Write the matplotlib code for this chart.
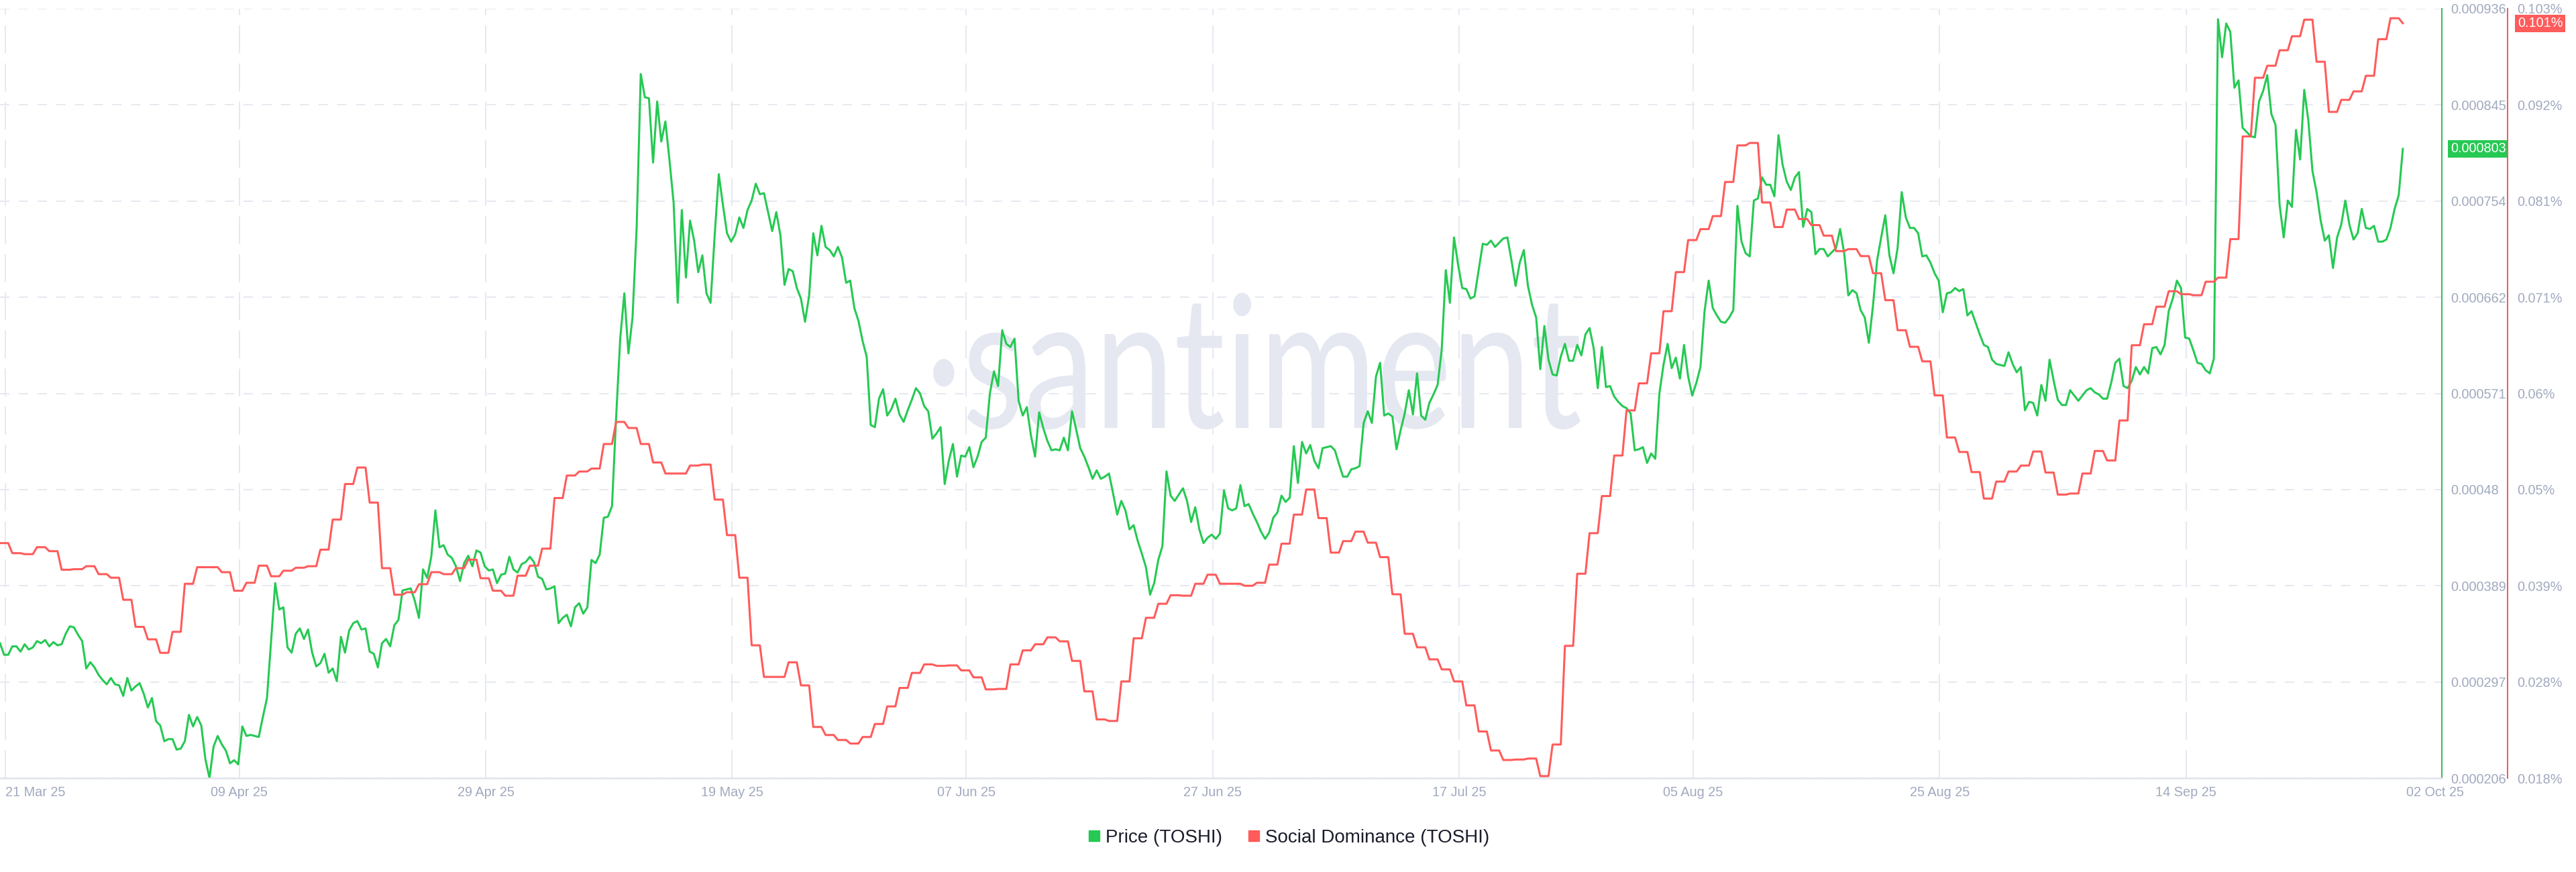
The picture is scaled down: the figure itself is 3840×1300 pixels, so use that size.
import numpy as np
import pandas as pd
import matplotlib
matplotlib.use("Agg")
import matplotlib.pyplot as plt
import matplotlib.dates as mdates
from matplotlib.lines import Line2D
from matplotlib.textpath import TextPath
from matplotlib.patches import PathPatch
from matplotlib.font_manager import FontProperties
from matplotlib.transforms import Affine2D, ScaledTranslation, blended_transform_factory

plt.rcParams["font.family"] = ["Liberation Sans", "DejaVu Sans"]

# TOSHI price in millionths of a dollar, one point every 8 hours from 20 Mar 25 14:00
price_e6 = [
    334, 323, 323, 331, 331, 326, 333, 328, 330, 336,
    334, 337, 331, 335, 332, 333, 343, 350, 349, 342,
    336, 310, 316, 311, 304, 299, 295, 301, 295, 294,
    284, 301, 289, 293, 296, 286, 273, 282, 260, 256,
    241, 243, 243, 233, 234, 241, 266, 255, 264, 256,
    224, 206, 236, 246, 238, 232, 220, 223, 219, 255,
    246, 247, 246, 245, 264, 282, 336, 391, 366, 368,
    330, 325, 343, 348, 338, 347, 325, 312, 315, 324,
    306, 310, 298, 340, 325, 346, 353, 355, 347, 348,
    326, 324, 311, 334, 338, 331, 351, 356, 384, 385,
    386, 374, 358, 404, 396, 416, 460, 425, 427, 418,
    415, 407, 393, 410, 417, 407, 422, 420, 407, 403,
    404, 391, 399, 400, 416, 404, 401, 409, 411, 416,
    411, 397, 395, 385, 386, 388, 353, 358, 361, 350,
    368, 372, 362, 368, 413, 410, 418, 453, 454, 464,
    548, 623, 666, 609, 643, 728, 874, 852, 851, 790,
    848, 810, 829, 792, 752, 657, 745, 681, 735, 716,
    686, 702, 666, 657, 721, 779, 750, 723, 715, 722,
    738, 728, 745, 754, 770, 760, 761, 743, 725, 743,
    721, 674, 689, 687, 671, 661, 639, 664, 723, 702,
    730, 710, 707, 701, 710, 700, 676, 678, 652, 640,
    621, 606, 541, 539, 566, 575, 550, 556, 566, 551,
    544, 555, 565, 576, 571, 559, 554, 528, 533, 539,
    485, 507, 523, 492, 512, 511, 520, 501, 511, 525,
    529, 571, 592, 578, 631, 618, 615, 623, 564, 550,
    558, 531, 511, 553, 538, 526, 517, 518, 517, 529,
    517, 554, 537, 519, 511, 501, 490, 498, 490, 492,
    495, 476, 456, 469, 460, 442, 446, 431, 419, 406,
    380, 391, 413, 426, 497, 474, 469, 475, 481, 469,
    449, 463, 442, 429, 434, 437, 433, 438, 479, 462,
    460, 462, 484, 464, 466, 457, 449, 440, 433, 439,
    453, 458, 474, 468, 472, 521, 486, 525, 514, 522,
    507, 500, 519, 520, 521, 517, 504, 492, 492, 499,
    500, 502, 543, 554, 543, 587, 600, 550, 552, 549,
    518, 536, 552, 574, 551, 590, 550, 546, 562, 570,
    579, 612, 688, 657, 719, 693, 671, 670, 661, 663,
    688, 713, 712, 716, 710, 714, 718, 719, 697, 673,
    695, 707, 673, 655, 643, 594, 635, 603, 589, 588,
    606, 618, 602, 602, 617, 607, 627, 633, 614, 576,
    615, 577, 578, 568, 563, 559, 557, 552, 517, 518,
    520, 505, 514, 509, 571, 598, 618, 595, 605, 585,
    617, 587, 569, 581, 596, 649, 678, 652, 645, 639,
    638, 643, 650, 749, 715, 704, 701, 754, 756, 776,
    769, 769, 758, 816, 788, 772, 764, 776, 781, 729,
    746, 743, 703, 708, 708, 701, 705, 709, 727, 704,
    664, 669, 666, 650, 643, 619, 654, 697, 719, 740,
    702, 685, 709, 762, 738, 728, 728, 723, 701, 702,
    695, 685, 678, 648, 666, 667, 671, 668, 670, 645,
    649, 638, 627, 617, 615, 603, 599, 598, 597, 610,
    599, 591, 596, 555, 563, 562, 550, 579, 564, 603,
    583, 565, 560, 560, 574, 569, 564, 569, 574, 576,
    572, 570, 566, 566, 581, 600, 604, 578, 576, 583,
    596, 589, 596, 590, 614, 615, 608, 617, 649, 661,
    678, 671, 624, 623, 612, 600, 599, 593, 590, 604,
    926, 890, 922, 914, 861, 868, 823, 819, 815, 814,
    848, 858, 873, 836, 826, 750, 719, 754, 748, 821,
    793, 859, 830, 782, 762, 735, 716, 721, 690, 719,
    731, 754, 731, 717, 723, 746, 728, 727, 730, 715,
    715, 717, 728, 746, 759, 803,
]

# social dominance in thousandths of a percent, one value per day
social_e3 = [
    43.96, 42.85, 42.74, 43.51, 43.07, 41.02, 41.08, 41.41, 40.53, 40.14,
    37.70, 34.71, 33.33, 31.84, 34.16, 39.47, 41.30, 41.30, 40.75, 38.70,
    39.58, 41.47, 40.30, 40.91, 41.24, 41.41, 43.24, 46.56, 50.49, 52.31,
    48.44, 41.19, 38.26, 38.53, 39.42, 40.75, 40.53, 41.19, 42.13, 40.08,
    38.70, 38.15, 40.36, 41.47, 43.35, 48.94, 51.43, 51.87, 52.20, 54.91,
    57.35, 56.68, 54.91, 52.87, 51.65, 51.65, 52.53, 52.64, 48.77, 44.84,
    40.14, 32.67, 29.18, 29.18, 30.79, 28.24, 23.65, 22.76, 22.21, 21.82,
    22.54, 23.98, 25.92, 27.96, 29.62, 30.56, 30.40, 30.45, 29.90, 29.13,
    27.80, 27.85, 30.56, 32.11, 32.78, 33.55, 33.11, 30.95, 27.58, 24.48,
    24.31, 28.68, 33.44, 35.71, 37.26, 38.20, 38.15, 39.47, 40.47, 39.47,
    39.47, 39.25, 39.58, 41.58, 43.90, 47.11, 49.88, 46.72, 42.91, 44.18,
    45.23, 44.01, 42.41, 38.31, 33.94, 32.45, 31.12, 30.01, 28.68, 26.03,
    23.15, 21.05, 20.00, 20.05, 20.16, 18.22, 21.71, 32.61, 40.58, 45.06,
    49.16, 53.64, 58.62, 61.61, 64.93, 69.58, 73.90, 77.44, 78.65, 80.09,
    83.86, 87.90, 88.17, 81.59, 78.88, 80.81, 79.76, 79.10, 77.93, 76.22,
    76.44, 75.67, 73.78, 70.80, 67.48, 65.65, 64.04, 60.28, 55.63, 54.03,
    51.81, 48.88, 50.76, 51.87, 52.53, 54.08, 51.76, 49.32, 49.44, 51.65,
    54.14, 53.09, 57.51, 65.82, 68.14, 70.08, 71.79, 71.46, 71.35, 72.84,
    73.29, 77.55, 88.89, 95.37, 96.70, 98.41, 99.96, 101.79, 97.14, 91.60,
    92.93, 93.87, 95.59, 99.63, 101.95, 101.40,
]

start = "2025-03-20 14:00"
end = "2025-10-04 18:00"
tick_dates = ["2025-03-21", "2025-04-09", "2025-04-29", "2025-05-19", "2025-06-07",
              "2025-06-27", "2025-07-17", "2025-08-05", "2025-08-25", "2025-09-14"]
tick_labels = ["21 Mar 25", "09 Apr 25", "29 Apr 25", "19 May 25", "07 Jun 25",
               "27 Jun 25", "17 Jul 25", "05 Aug 25", "25 Aug 25", "14 Sep 25"]
last_label = "02 Oct 25"
price_labels = ["0.000206", "0.000297", "0.000389", "0.00048", "0.000571",
                "0.000662", "0.000754", "0.000845", "0.000936"]
social_labels = ["0.018%", "0.028%", "0.039%", "0.05%", "0.06%",
                 "0.071%", "0.081%", "0.092%", "0.103%"]
legend_labels = ["Price (TOSHI)", "Social Dominance (TOSHI)"]

GREEN = "#26c953"
RED = "#ff5b5b"
GREY = "#a0a9be"
GRID = "#e7e9f1"
FS = 14.3

price = np.array(price_e6) * 1e-6
social = np.repeat(np.array(social_e3) * 1e-3, 3)[:len(price)]
t = pd.date_range(start, periods=len(price), freq="8h")

fig = plt.figure(figsize=(38.4, 13), dpi=100)
ax = fig.add_axes([0, 1 - 1160 / 1300, 3640 / 3840, 1147 / 1300])
ax2 = ax.twinx()
# twinx moves the first axis' ticks back to the left, so put them right again
ax.yaxis.tick_right()
ax.yaxis.set_label_position("right")

ax.plot(t, price, color=GREEN, lw=2.2, zorder=2)
ax2.plot(t, social, color=RED, lw=2.2, zorder=2)

ax.set_xlim(mdates.date2num(pd.Timestamp(start)), mdates.date2num(pd.Timestamp(end)))
ax.set_ylim(float(price_labels[0]), float(price_labels[-1]))
ax2.set_ylim(float(social_labels[0][:-1]), float(social_labels[-1][:-1]))

ax.set_xticks(mdates.date2num(pd.to_datetime(tick_dates)))
xl = ax.set_xticklabels(tick_labels)
xl[0].set_ha("left")
ax.set_yticks(np.linspace(*ax.get_ylim(), len(price_labels)))
ax.set_yticklabels(price_labels)
ax2.set_yticks(np.linspace(*ax2.get_ylim(), len(social_labels)))
ax2.set_yticklabels(social_labels)

ax.tick_params(axis="x", length=0, pad=8.6, labelsize=FS, labelcolor=GREY)
ax.tick_params(axis="y", length=0, pad=9.4, labelsize=FS, labelcolor=GREY,
               left=False, labelleft=False, right=True, labelright=True)
ax2.tick_params(axis="y", length=0, pad=10, labelsize=FS, labelcolor=GREY)

ax.yaxis.grid(True, color=GRID, lw=1.5, linestyle=(0, (6.7, 6.7)))
ax.xaxis.grid(True, color=GRID, lw=1.5, linestyle=(0, (20, 7.3)))
ax.set_axisbelow(True)

for s in ["left", "top"]:
    ax.spines[s].set_visible(False)
ax.spines["right"].set_color("#3dba5f")
ax.spines["right"].set_linewidth(1.5)
ax.spines["bottom"].set_color("#e1e4ec")
ax.spines["bottom"].set_linewidth(1.8)
for s in ["left", "top", "bottom"]:
    ax2.spines[s].set_visible(False)
ax2.spines["right"].set_position(("axes", 3738 / 3640))
ax2.spines["right"].set_color("#dd6767")
ax2.spines["right"].set_linewidth(1.5)

ax.text(3630 / 3640, 0, last_label, fontsize=FS, color=GREY, ha="center", va="top",
        transform=ax.transAxes + ScaledTranslation(0, -8.6 / 72, fig.dpi_scale_trans))

# last value badges on the two scales
ax.text(3653 / 3640, price[-1], f"{price[-1]:.6f}", transform=blended_transform_factory(ax.transAxes, ax.transData),
        ha="left", va="center", fontsize=FS, color="white", clip_on=False, zorder=5,
        bbox=dict(boxstyle="square,pad=0.18", fc=GREEN, ec="none"))
ax2.text(3753 / 3640, social[-1], f"{social[-1]:.3f}%", transform=blended_transform_factory(ax2.transAxes, ax2.transData),
         ha="left", va="center", fontsize=FS, color="white", clip_on=False, zorder=5,
         bbox=dict(boxstyle="square,pad=0.18", fc=RED, ec="none"))

# watermark
fp = FontProperties(family="Lato")
wm = TextPath((0, 0), "\u00b7santiment", size=1, prop=fp)
e = wm.get_extents()
xh = TextPath((0, 0), "x", size=1, prop=fp).get_extents().height
tr = Affine2D().translate(-e.x0, 0).scale(9.65 / e.width, 1.40 / xh).translate(13.91, 6.62) + fig.dpi_scale_trans
ax.add_artist(PathPatch(wm, transform=tr, fc="#e5e8f1", ec="none", zorder=0.3))

handles = [Line2D([], [], ls="none", marker="s", ms=12, mfc=c, mec=c) for c in (GREEN, RED)]
fig.legend(handles, legend_labels, loc="center", bbox_to_anchor=(0.5, 1 - 1249 / 1300), ncol=2,
           frameon=False, fontsize=20, handlelength=0.8, handletextpad=0.2, columnspacing=1.3,
           labelcolor="#1a1d2b")

fig.savefig("out.png", dpi=100)
